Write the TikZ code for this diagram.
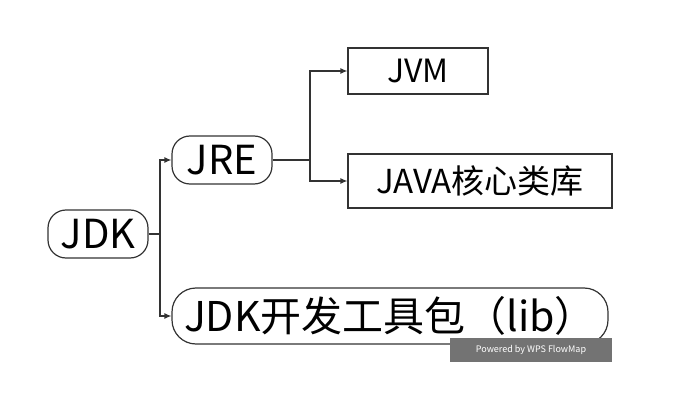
\documentclass[tikz,border=0pt]{standalone}
\usepackage{fontspec}
\setmainfont{Noto Sans CJK SC}
\usetikzlibrary{arrows.meta}
\begin{document}
\begin{tikzpicture}[x=1pt,y=-1pt,
  rbox/.style={draw=black!80,line width=1.2pt,rounded corners=18pt,inner sep=0pt},
  sbox/.style={draw=black!80,line width=1.2pt,inner sep=0pt},
  conn/.style={draw=black!80,line width=1.2pt,-{Latex[length=7pt,width=6pt]}}]
\useasboundingbox (0,0) rectangle (674,406);
\node[rbox,minimum width=100pt,minimum height=48pt,font=\fontsize{40}{42}\selectfont] (jdk) at (98,234) {JDK};
\node[rbox,minimum width=100pt,minimum height=48pt,font=\fontsize{40}{42}\selectfont] (jre) at (222,160) {JRE};
\node[sbox,minimum width=140pt,minimum height=46pt,font=\fontsize{32}{34}\selectfont] (jvm) at (418,71) {JVM};
\node[sbox,minimum width=264pt,minimum height=54pt,font=\fontsize{33}{35}\selectfont] (core) at (480,181) {JAVA核心类库};
\node[rbox,rounded corners=24pt,minimum width=436pt,minimum height=56pt,font=\fontsize{41}{43}\selectfont] (lib) at (390,316) {JDK开发工具包（lib）};
\node[fill=black!55,minimum width=162pt,minimum height=24pt,inner sep=0pt,text=white,font=\fontsize{9}{10}\selectfont] (wm) at (531,350) {Powered by WPS FlowMap};
\coordinate (j1) at (160,234);
\coordinate (j2) at (310,160);
\draw[draw=black!80,line width=1.2pt] (jdk.east) -- (j1);
\draw[conn] (j1) |- (jre.west);
\draw[conn] (j1) |- (lib.west);
\draw[draw=black!80,line width=1.2pt] (jre.east) -- (j2);
\draw[conn] (j2) |- (jvm.west);
\draw[conn] (j2) |- (core.west);
\end{tikzpicture}
\end{document}
